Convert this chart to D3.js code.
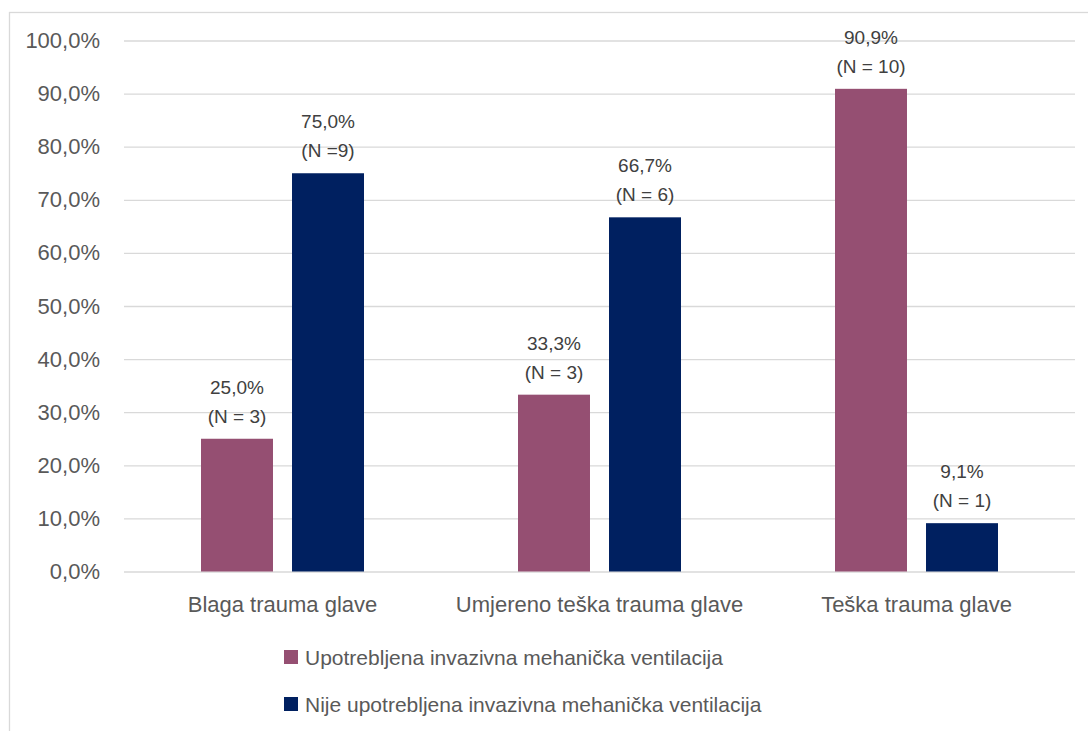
<!DOCTYPE html>
<html>
<head>
<meta charset="utf-8">
<script src="https://cdn.jsdelivr.net/npm/d3@7"></script>
<style>
  html, body { margin: 0; padding: 0; background: #fff; }
  svg { display: block; font-family: "Liberation Sans", Arial, sans-serif; }
</style>
</head>
<body>
<svg id="chart" width="1088" height="731"></svg>
<script>
// ---- data ----
const categories = ["Blaga trauma glave", "Umjereno teška trauma glave", "Teška trauma glave"];
const seriesNames = ["Upotrebljena invazivna mehanička ventilacija", "Nije upotrebljena invazivna mehanička ventilacija"];
const usedValues = [25.0, 33.3, 90.9];
const notUsedValues = [75.0, 66.7, 9.1];
const usedCountLabels = ["(N = 3)", "(N = 3)", "(N = 10)"];
const notUsedCountLabels = ["(N =9)", "(N = 6)", "(N = 1)"];
const yTicks = [0, 10, 20, 30, 40, 50, 60, 70, 80, 90, 100];
const colors = ["#954F72", "#002060"];

const svg = d3.select("#chart");
const W = 1088, H = 731;

// outer frame
svg.append("rect")
  .attr("x", 9.5).attr("y", 12.5)
  .attr("width", W + 20).attr("height", H + 20)
  .attr("fill", "none").attr("stroke", "#D9D9D9").attr("stroke-width", 1.3);

const plot = { left: 124, right: 1075, top: 40.5, bottom: 571.5 };

const y = d3.scaleLinear().domain([0, 100]).range([plot.bottom, plot.top]);
const x0 = d3.scaleBand().domain(categories).range([plot.left, plot.right]).padding(0);
const x1 = d3.scaleBand().domain(seriesNames).range([77, 240]).paddingInner(0.209);

const fmt = v => v.toFixed(1).replace(".", ",") + "%";

// y axis with gridlines
const yAxis = svg.append("g")
  .attr("transform", `translate(${plot.left},0)`)
  .call(d3.axisLeft(y).tickValues(yTicks).tickSize(-(plot.right - plot.left)).tickPadding(24).tickFormat(fmt));
yAxis.select(".domain").remove();
yAxis.selectAll(".tick line").attr("stroke", "#D9D9D9").attr("stroke-width", 1.3);
yAxis.selectAll(".tick text").attr("fill", "#595959").style("font-size", "22px");

// x axis
const xAxis = svg.append("g")
  .attr("transform", `translate(0,${plot.bottom})`)
  .call(d3.axisBottom(x0).tickSize(0).tickPadding(25));
xAxis.select(".domain").remove();
xAxis.selectAll(".tick text").attr("fill", "#595959").style("font-size", "22px");

// bars
const rows = categories.map((c, i) => ({
  cat: c,
  items: [
    { s: seriesNames[0], v: usedValues[i], n: usedCountLabels[i], color: colors[0] },
    { s: seriesNames[1], v: notUsedValues[i], n: notUsedCountLabels[i], color: colors[1] }
  ]
}));

const groups = svg.append("g").selectAll("g").data(rows).join("g")
  .attr("transform", d => `translate(${x0(d.cat)},0)`);

groups.selectAll("rect").data(d => d.items).join("rect")
  .attr("x", d => x1(d.s))
  .attr("y", d => y(d.v))
  .attr("width", x1.bandwidth())
  .attr("height", d => y(0) - y(d.v))
  .attr("fill", d => d.color);

const labels = groups.selectAll("text.lbl").data(d => d.items).join("text")
  .attr("class", "lbl")
  .attr("text-anchor", "middle")
  .attr("fill", "#404040")
  .style("font-size", "19px");
labels.append("tspan")
  .attr("x", d => x1(d.s) + x1.bandwidth() / 2)
  .attr("y", d => y(d.v) - 45)
  .text(d => fmt(d.v));
labels.append("tspan")
  .attr("x", d => x1(d.s) + x1.bandwidth() / 2)
  .attr("y", d => y(d.v) - 16)
  .text(d => d.n);

// legend
const legend = svg.append("g").selectAll("g").data(seriesNames).join("g")
  .attr("transform", (d, i) => `translate(284,${650 + i * 47})`);
legend.append("rect")
  .attr("width", 14).attr("height", 14)
  .attr("fill", (d, i) => colors[i]);
legend.append("text")
  .attr("x", 21).attr("y", 15)
  .attr("fill", "#595959")
  .style("font-size", "21px")
  .text(d => d);
</script>
</body>
</html>
